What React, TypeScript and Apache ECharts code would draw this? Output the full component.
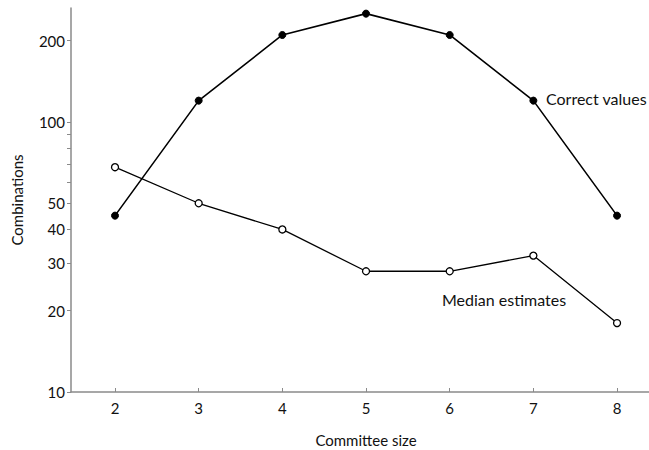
import React, { useEffect, useRef } from "react";
import * as echarts from "echarts";

const committeeSizes = [2, 3, 4, 5, 6, 7, 8];
const correctValues = [45, 120, 210, 252, 210, 120, 45];
const medianEstimates = [68, 50, 40, 28, 28, 32, 18];
const yTickValues = [10, 20, 30, 40, 50, 60, 70, 80, 90, 100, 200];
const yLabelValues = [10, 20, 30, 40, 50, 100, 200];
const xTickValues = [2, 3, 4, 5, 6, 7, 8];

const FONT = "Lato, 'Open Sans', sans-serif";

export default function App() {
  const ref = useRef<HTMLDivElement>(null);
  useEffect(() => {
    if (!ref.current) return;
    const chart = echarts.init(ref.current, undefined, { renderer: "svg" });
    const lg = (v: number) => Math.log10(v);
    const axisColor = "#8a8a8a";
    chart.setOption({
      animation: false,
      backgroundColor: "#fff",
      textStyle: { fontFamily: FONT },
      grid: { left: 71, right: 0, top: 8, bottom: 58, containLabel: false, outerBoundsMode: "none" },
      xAxis: {
        type: "value",
        min: 1.474,
        max: 8.382,
        name: "Committee size",
        nameLocation: "middle",
        nameGap: 40,
        nameTextStyle: { fontSize: 15, color: "#111", fontFamily: FONT, padding: [0, 0, 0, 12] },
        axisLine: { show: true, lineStyle: { color: axisColor, width: 1.5 } },
        axisTick: { show: true, inside: true, length: 4, customValues: xTickValues, lineStyle: { color: axisColor } },
        axisLabel: { customValues: xTickValues, fontSize: 15, color: "#111", margin: 8, fontFamily: FONT },
        splitLine: { show: false },
      },
      yAxis: {
        type: "value",
        min: 1,
        max: 2.4222,
        name: "Combinations",
        nameLocation: "middle",
        nameGap: 47,
        nameRotate: 90,
        nameTextStyle: { fontSize: 15, color: "#111", fontFamily: FONT },
        axisLine: { show: true, lineStyle: { color: axisColor, width: 1.5 } },
        axisTick: { show: true, inside: false, length: 4, customValues: yTickValues.map(lg), lineStyle: { color: axisColor } },
        axisLabel: {
          customValues: yLabelValues.map(lg),
          fontSize: 15,
          color: "#111",
          margin: 6,
          fontFamily: FONT,
          formatter: (v: number) => String(Math.round(Math.pow(10, v))),
        },
        splitLine: { show: false },
      },
      series: [
        {
          name: "Correct values",
          type: "line",
          data: committeeSizes.map((x, i) => [x, lg(correctValues[i])]),
          symbol: "circle",
          symbolSize: 7,
          lineStyle: { color: "#000", width: 1.6 },
          itemStyle: { color: "#000", borderColor: "#000", borderWidth: 1 },
        },
        {
          name: "Median estimates",
          type: "line",
          data: committeeSizes.map((x, i) => [x, lg(medianEstimates[i])]),
          symbol: "circle",
          symbolSize: 7,
          lineStyle: { color: "#000", width: 1.3 },
          itemStyle: { color: "#fff", borderColor: "#000", borderWidth: 1.3 },
        },
      ],
      graphic: [
        {
          type: "text",
          left: 546,
          top: 90,
          style: { text: "Correct values", fontSize: 16, fill: "#111", fontFamily: FONT },
        },
        {
          type: "text",
          left: 442,
          top: 291,
          style: { text: "Median estimates", fontSize: 16, fill: "#111", fontFamily: FONT },
        },
      ],
    });
    return () => chart.dispose();
  }, []);
  return (
    <div
      ref={ref}
      style={{ position: "fixed", left: 0, top: 0, width: 649, height: 450, background: "#fff" }}
    />
  );
}
